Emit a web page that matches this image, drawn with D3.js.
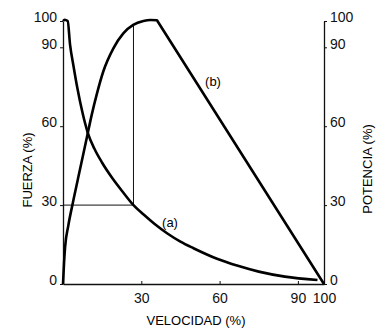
<!DOCTYPE html>
<html lang="es">
<head>
    <meta charset="UTF-8">
    <title>Fuerza y potencia frente a velocidad</title>
    <script src="https://cdn.jsdelivr.net/npm/d3@7"></script>
</head>
<style>
    body { margin: 0; background: #fff; }
    svg { display: block; font-family: "Liberation Sans", Arial, sans-serif; }
</style>
<body>
<script>
    // curva (a): fuerza frente a velocidad
    const velA = [0, 0.6, 1.8, 2.7, 4, 5.5, 7.5, 9.5, 12, 15, 19, 23, 27, 31, 35, 40, 45, 50, 59, 67, 75, 85, 97.5];
    const fuerzaA = [100, 100.5, 100, 91, 83, 74.5, 65, 57.5, 51.5, 46.1, 40.1, 34.9, 30, 26.3, 22.9, 19.2, 16.1, 13.6, 9.6, 6.9, 4.7, 2.8, 1.5];

    // curva (b): potencia frente a velocidad (subida curva, bajada recta)
    const velB = [0, 0.4, 0.8, 2, 3.8, 6.5, 9.2, 11, 12.9, 15.4, 19.3, 23.1, 26.9, 30.8, 33.5, 36, 100];
    const potenciaB = [0, 8, 14, 22, 31, 43.5, 56, 64.3, 72, 80.7, 89.6, 95.3, 98.5, 100, 100.4, 100.3, 0];
    const picoB = 15; // indice del final de la parte curva

    // punto de referencia (velocidad 27 %, fuerza 30 %)
    const guia = {vel: 27, fuerza: 30, potencia: 98.5};

    const ticksX = [30, 60, 90, 100];
    const ticksY = [0, 30, 60, 90, 100];

    const W = 378, H = 329;
    const x = d3.scaleLinear().domain([0, 100]).range([63, 324]);
    const y = d3.scaleLinear().domain([0, 100]).range([284, 21]);

    const svg = d3.select("body")
            .append("svg")
            .attr("width", W)
            .attr("height", H);

    // ejes
    const axL = svg.append("g")
            .attr("transform", `translate(${x(0)},0)`)
            .call(d3.axisLeft(y).tickValues(ticksY).tickSize(3).tickSizeOuter(0).tickPadding(3));
    const axR = svg.append("g")
            .attr("transform", `translate(${x(100)},0)`)
            .call(d3.axisRight(y).tickValues(ticksY).tickSize(3).tickSizeOuter(0).tickPadding(3));
    const axB = svg.append("g")
            .attr("transform", `translate(0,${y(0)})`)
            .call(d3.axisBottom(x).tickValues(ticksX).tickSize(-3).tickSizeOuter(0).tickPadding(6));

    [axL, axR, axB].forEach(a => {
        a.selectAll("text").attr("font-size", 14).attr("font-family", null).attr("fill", "#111");
        a.selectAll("line").attr("stroke", "#111");
        a.select(".domain").attr("stroke", "#111").attr("stroke-width", 1.3);
    });
    axL.selectAll("text").attr("dy", "0.05em");
    axR.selectAll("text").attr("dy", "0.05em");
    axB.selectAll("text").attr("dy", "0.9em");

    // lineas guia
    svg.append("path")
            .attr("d", `M${x(0)},${y(guia.fuerza)}H${x(guia.vel)}V${y(guia.potencia)}`)
            .attr("fill", "none")
            .attr("stroke", "#111")
            .attr("stroke-width", 1);

    const line = d3.line()
            .x(d => x(d[0]))
            .y(d => y(d[1]))
            .curve(d3.curveMonotoneX);

    svg.append("path")
            .attr("d", line(d3.zip(velA, fuerzaA)))
            .attr("fill", "none")
            .attr("stroke", "#000")
            .attr("stroke-width", 2.6);

    const ptsB = d3.zip(velB, potenciaB);
    const subida = line(ptsB.slice(0, picoB + 1));
    const bajada = ptsB.slice(picoB + 1).map(d => `L${x(d[0])},${y(d[1])}`).join("");
    svg.append("path")
            .attr("d", subida + bajada)
            .attr("fill", "none")
            .attr("stroke", "#000")
            .attr("stroke-width", 2.6)
            .attr("stroke-linejoin", "round");

    // etiquetas de curva
    svg.append("text").attr("x", 213).attr("y", 86)
            .attr("text-anchor", "middle").attr("font-size", 13).text("(b)");
    svg.append("text").attr("x", 170).attr("y", 227)
            .attr("text-anchor", "middle").attr("font-size", 13).text("(a)");

    // titulos de ejes
    svg.append("text").attr("x", 196).attr("y", 325)
            .attr("text-anchor", "middle").attr("font-size", 13).text("VELOCIDAD (%)");
    svg.append("text")
            .attr("transform", "translate(32,170) rotate(-90)")
            .attr("text-anchor", "middle").attr("font-size", 13).text("FUERZA (%)");
    svg.append("text")
            .attr("transform", "translate(372,169) rotate(-90)")
            .attr("text-anchor", "middle").attr("font-size", 13).text("POTENCIA (%)");
</script>
</body>
</html>
